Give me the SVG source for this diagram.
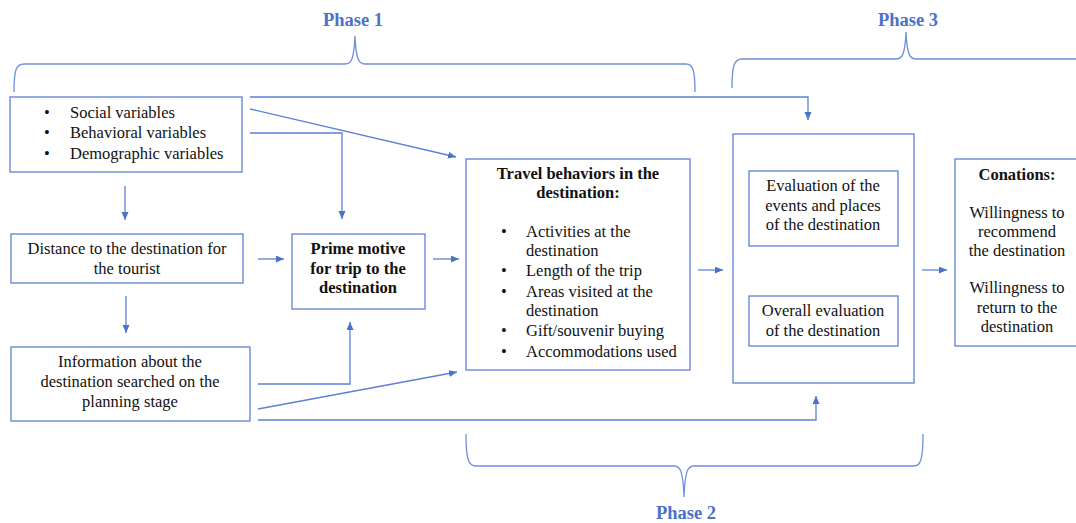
<svg xmlns="http://www.w3.org/2000/svg" width="1076" height="523" viewBox="0 0 1076 523">
<style>
.box{fill:#fff;stroke:#5B80D6;stroke-width:1.3}
.ln{fill:none;stroke:#5B80D6;stroke-width:1.3}
.br{fill:none;stroke:#6E8FDB;stroke-width:1.3}
.t{font-size:16.5px;fill:#111}
.b{font-weight:bold}
.c{text-anchor:middle}
.ph{font-size:18.5px;font-weight:bold;fill:#4A72C8;text-anchor:middle}
</style>
<defs>
<marker id="ah" markerUnits="userSpaceOnUse" markerWidth="9" markerHeight="8" refX="8" refY="3.5" orient="auto">
<path d="M0,0 L8,3.5 L0,7 z" fill="#4A72C8"/>
</marker>
</defs>
<rect width="1076" height="523" fill="#fff"/>

<g id="braces" font-family="Liberation Serif, Times New Roman, DejaVu Serif, serif">
<path class="br" d="M14,92 C14,70 16,64 24,64 L345,64 C351,64 354,60 355,36 C356,60 359,64 365,64 L686,64 C693,64 695,70 695,92"/>
<path class="br" d="M732,88 C732,66 734,59 742,59 L896,59 C902,59 905,55 906,32 C907,55 910,59 916,59 L1080,59"/>
<path class="br" d="M466,434 C466,458 468,466 476,466 L674,466 C680,466 683,470 684,497 C685,470 688,466 694,466 L914,466 C921,466 923,458 923,434"/>
<text class="ph" x="353" y="26">Phase 1</text>
<text class="ph" x="908" y="26">Phase 3</text>
<text class="ph" x="686" y="519">Phase 2</text>
</g>

<g id="connectors">
<path class="ln" d="M250,97 L808,97 L808,120" marker-end="url(#ah)"/>
<path class="ln" d="M250,109 L456,157" marker-end="url(#ah)"/>
<path class="ln" d="M250,133 L342,133 L342,219" marker-end="url(#ah)"/>
<path class="ln" d="M125,186 L125,220" marker-end="url(#ah)"/>
<path class="ln" d="M258,259 L284,259" marker-end="url(#ah)"/>
<path class="ln" d="M433,259 L459,259" marker-end="url(#ah)"/>
<path class="ln" d="M126,296 L126,333" marker-end="url(#ah)"/>
<path class="ln" d="M258,384 L350,384 L350,322" marker-end="url(#ah)"/>
<path class="ln" d="M258,409 L457,372" marker-end="url(#ah)"/>
<path class="ln" d="M258,420 L816,420 L816,396" marker-end="url(#ah)"/>
<path class="ln" d="M698,270 L723,270" marker-end="url(#ah)"/>
<path class="ln" d="M922,270 L947,270" marker-end="url(#ah)"/>
</g>

<g font-family="Liberation Serif, Times New Roman, DejaVu Serif, serif">
<g id="variables">
<rect class="box" x="10" y="97" width="232" height="75"/>
<text class="t" x="44" y="118">•</text><text class="t" x="70" y="118">Social variables</text>
<text class="t" x="44" y="138">•</text><text class="t" x="70" y="138">Behavioral variables</text>
<text class="t" x="44" y="159">•</text><text class="t" x="70" y="159">Demographic variables</text>
</g>

<g id="distance">
<rect class="box" x="11" y="234" width="232" height="49"/>
<text class="t c" x="127" y="254">Distance to the destination for</text>
<text class="t c" x="127" y="274">the tourist</text>
</g>

<g id="information">
<rect class="box" x="11" y="347" width="239" height="74"/>
<text class="t c" x="130" y="367">Information about the</text>
<text class="t c" x="130" y="387">destination searched on the</text>
<text class="t c" x="130" y="407">planning stage</text>
</g>

<g id="prime">
<rect class="box" x="292" y="234" width="133" height="75"/>
<text class="t b c" x="358" y="254">Prime motive</text>
<text class="t b c" x="358" y="274">for trip to the</text>
<text class="t b c" x="358" y="293">destination</text>
</g>

<g id="travel">
<rect class="box" x="466" y="159" width="224" height="211"/>
<text class="t b c" x="578" y="179">Travel behaviors in the</text>
<text class="t b c" x="578" y="198">destination:</text>
<text class="t" x="501" y="237">•</text><text class="t" x="526" y="237">Activities at the</text>
<text class="t" x="526" y="256">destination</text>
<text class="t" x="501" y="276">•</text><text class="t" x="526" y="276">Length of the trip</text>
<text class="t" x="501" y="297">•</text><text class="t" x="526" y="297">Areas visited at the</text>
<text class="t" x="526" y="316">destination</text>
<text class="t" x="501" y="336">•</text><text class="t" x="526" y="336">Gift/souvenir buying</text>
<text class="t" x="501" y="357">•</text><text class="t" x="526" y="357">Accommodations used</text>
</g>

<g id="evaluation">
<rect class="box" x="733" y="134" width="181" height="249"/>
<rect class="box" x="749" y="171" width="149" height="75"/>
<text class="t c" x="823" y="191">Evaluation of the</text>
<text class="t c" x="823" y="211">events and places</text>
<text class="t c" x="823" y="230">of the destination</text>
<rect class="box" x="749" y="296" width="149" height="50"/>
<text class="t c" x="823" y="316">Overall evaluation</text>
<text class="t c" x="823" y="336">of the destination</text>
</g>

<g id="conations">
<rect class="box" x="955" y="159" width="130" height="187"/>
<text class="t b c" x="1017" y="180">Conations:</text>
<text class="t c" x="1017" y="218">Willingness to</text>
<text class="t c" x="1017" y="237">recommend</text>
<text class="t c" x="1017" y="256">the destination</text>
<text class="t c" x="1017" y="293">Willingness to</text>
<text class="t c" x="1017" y="313">return to the</text>
<text class="t c" x="1017" y="332">destination</text>
</g>
</g>
</svg>
